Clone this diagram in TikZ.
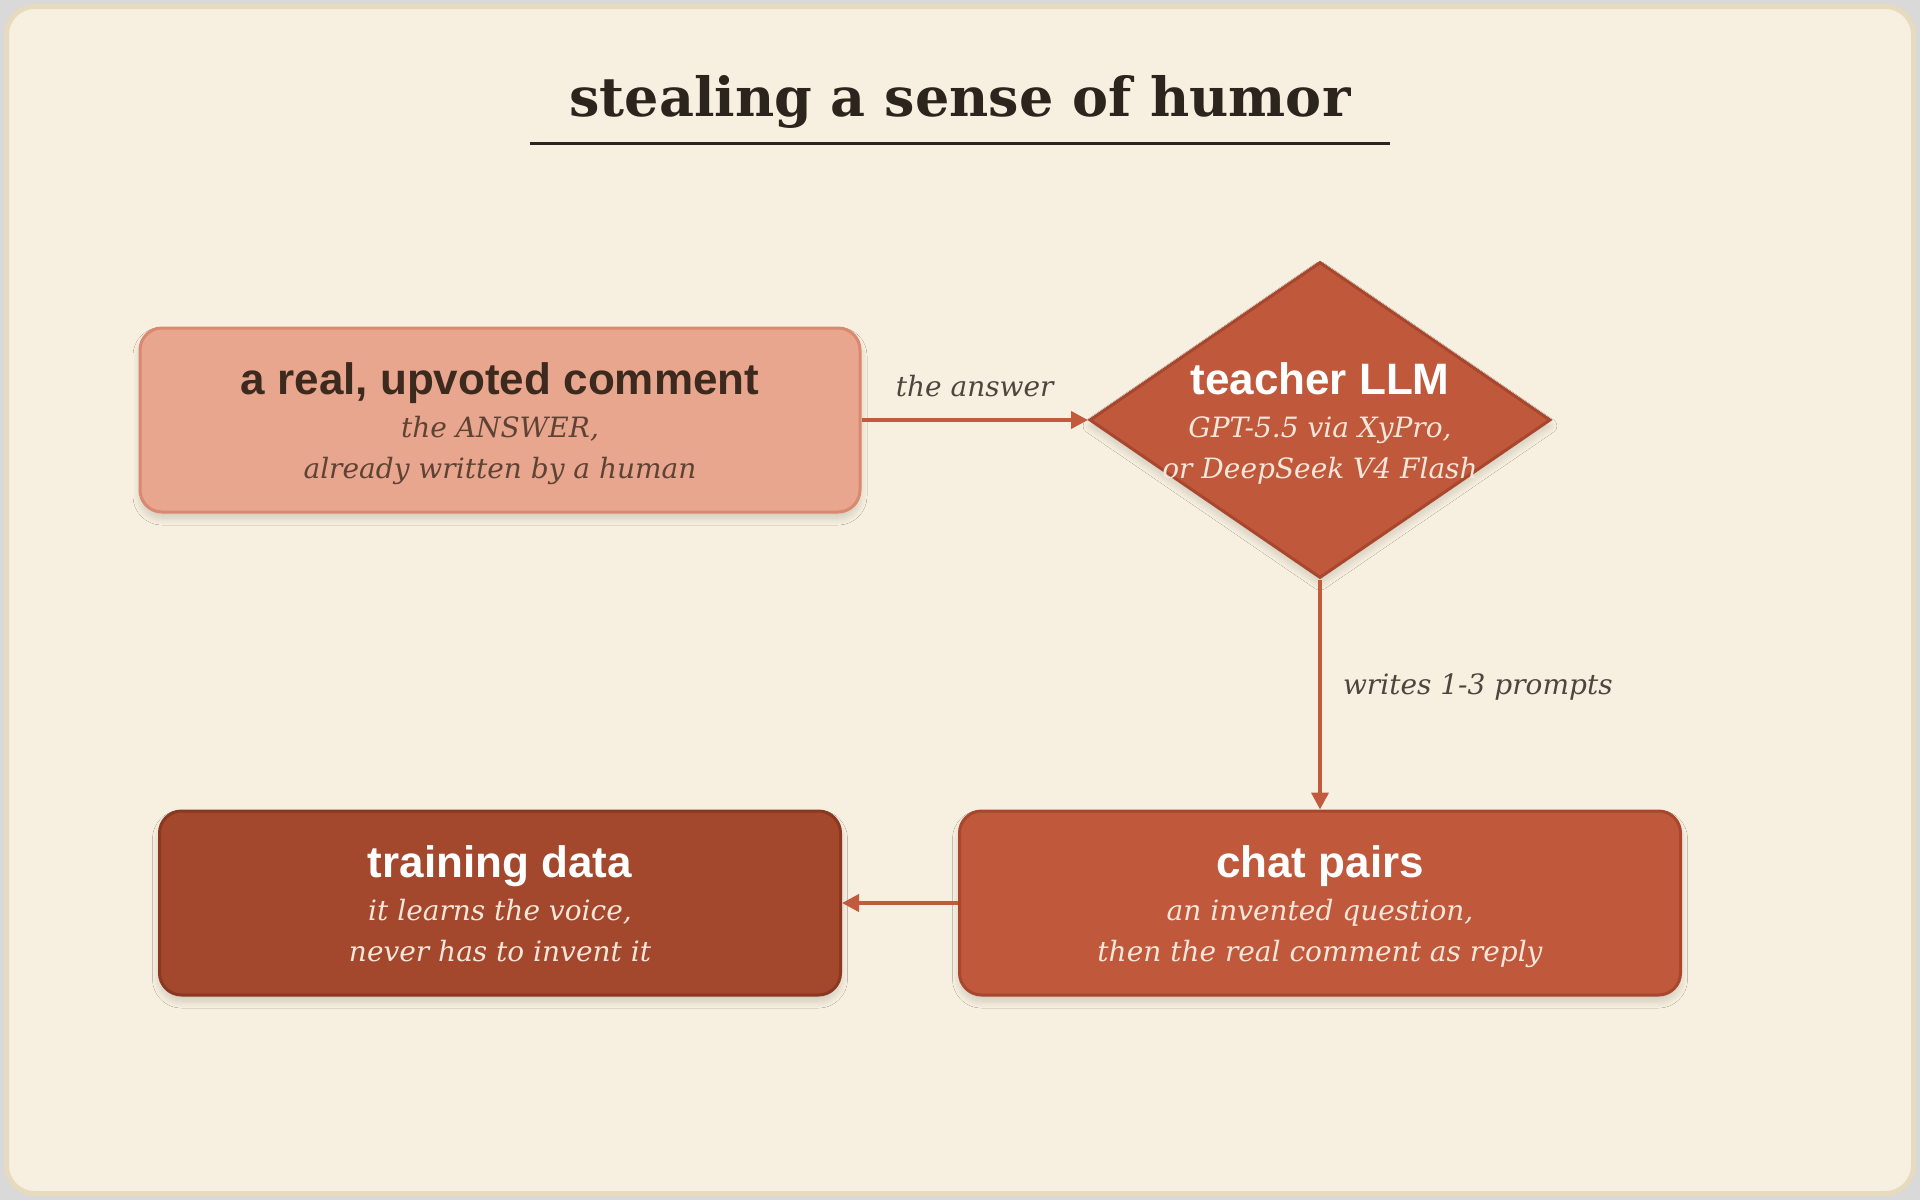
\documentclass[tikz,border=0pt]{standalone}
\usepackage{fontspec}
\setmainfont{DejaVu Serif}
\setsansfont{Liberation Sans}
\usetikzlibrary{shapes.geometric,arrows.meta,shadows.blur}

\definecolor{pagegrey}{HTML}{D9D9D9}
\definecolor{frameedge}{HTML}{E6DBBF}
\definecolor{paper}{HTML}{F7F0E0}
\definecolor{ink}{HTML}{2B251D}
\definecolor{salmon}{HTML}{E8A68E}
\definecolor{salmonedge}{HTML}{DA8870}
\definecolor{rust}{HTML}{C0583C}
\definecolor{rustedge}{HTML}{A8472E}
\definecolor{brick}{HTML}{A3472D}
\definecolor{brickedge}{HTML}{8A3820}
\definecolor{cocoa}{HTML}{3D2A1E}
\definecolor{bark}{HTML}{5E4334}
\definecolor{cream}{HTML}{F6E6DA}
\definecolor{labelink}{HTML}{4D463C}
\definecolor{flowred}{HTML}{C25A3E}

\newcommand*\headfont{\sffamily\bfseries\upshape\fontsize{44}{50}\selectfont}
\newcommand*\notefont{\itshape\fontsize{28}{41}\selectfont}
\newcommand*\tallstrut{\rule{0pt}{40pt}}
\newcommand*\deepstrut{\rule[-7pt]{0pt}{7pt}}

\tikzset{soft shadow/.style={
    blur shadow={shadow xshift=0pt,shadow yshift=-6pt,shadow blur radius=7pt,shadow blur steps=14,shadow opacity=16}
}}
\tikzset{card/.style 2 args={
    draw=#2,
    fill=#1,
    line width=3pt,
    rectangle,
    rounded corners=22pt,
    minimum height=184pt,
    inner sep=0pt,
    align=center,
    font=\notefont,
    soft shadow
}}
\tikzset{flow/.style={
    draw=flowred,
    line width=4pt,
    -{Triangle[length=17pt,width=17pt]}
}}
\tikzset{tag/.style={
    font=\notefont,
    text=labelink,
    inner sep=0pt
}}

\begin{document}
\begin{tikzpicture}[x=1pt,y=-1pt]

    % Paper and frame.
    \fill[pagegrey] (0,0) rectangle (1920,1200);
    \draw[fill=paper,draw=frameedge,line width=5pt,rounded corners=28pt] (6.5,6.5) rectangle (1913.5,1193.5);

    % Title with its rule.
    \node[anchor=base,inner sep=0pt,text=ink,font=\bfseries\fontsize{54}{62}\selectfont] (title) at (960,116) {stealing a sense of humor};
    \draw[ink,line width=3pt] (530,143) -- (1390,143);

    % The four steps.
    \node[card={salmon}{salmonedge},minimum width=720pt,text=bark] (answer) at (500,420)
        {{\headfont\color{cocoa}\tallstrut a real, upvoted comment}\\[2pt]the ANSWER,\\already written by a human\deepstrut};
    \node[diamond,draw=rustedge,fill=rust,line width=3pt,inner sep=0pt,minimum width=461pt,minimum height=316pt,soft shadow] (llm) at (1320,420) {};
    \node[align=center,inner sep=0pt,font=\notefont,text=cream] (llmtext) at (llm.center)
        {{\headfont\color{white}\tallstrut teacher LLM}\\[2pt]GPT-5.5 via XyPro,\\or DeepSeek V4 Flash\deepstrut};
    \node[card={rust}{rustedge},minimum width=721pt,text=cream] (pairs) at (1320,903)
        {{\headfont\color{white}\tallstrut chat pairs}\\[2pt]an invented question,\\then the real comment as reply\deepstrut};
    \node[card={brick}{brickedge},minimum width=681pt,text=cream] (data) at (500,903)
        {{\headfont\color{white}\tallstrut training data}\\[2pt]it learns the voice,\\never has to invent it\deepstrut};

    % Connectors.
    \draw[flow] (answer.east) -- node[tag,anchor=base,yshift=24pt] (answerlabel) {the answer} (llm.west);
    \draw[flow] (llm.south) -- node[tag,anchor=base west,xshift=21pt] (promptlabel) {writes 1-3 prompts} (pairs.north);
    \draw[flow] (pairs.west) -- (data.east);

\end{tikzpicture}
\end{document}
